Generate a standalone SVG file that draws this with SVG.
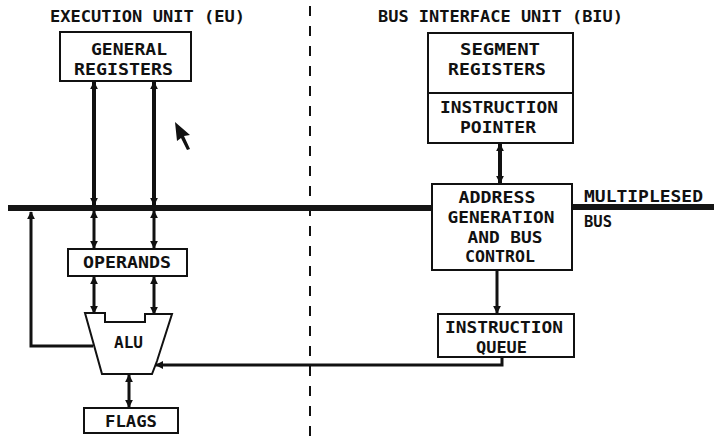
<svg xmlns="http://www.w3.org/2000/svg" width="714" height="442" viewBox="0 0 714 442">
<style>
  .t{font-family:"DejaVu Sans Mono","Liberation Mono",monospace;font-weight:bold;font-size:15.5px;fill:#111;text-anchor:middle}
  .ts{font-family:"DejaVu Sans Mono","Liberation Mono",monospace;font-weight:bold;font-size:15.5px;fill:#111;text-anchor:start}
  .box{fill:#fff;stroke:#111;stroke-width:2}
  .w{fill:none;stroke:#111;stroke-width:3}
  .wt{fill:none;stroke:#111;stroke-width:4}
  .bus{fill:none;stroke:#151515;stroke-width:6}
</style>
<defs>
  <marker id="ah" viewBox="0 0 10 10" refX="9" refY="5" markerWidth="8" markerHeight="8" markerUnits="userSpaceOnUse" orient="auto-start-reverse">
    <path d="M0,0 L10,5 L0,10 Z" fill="#111"/>
  </marker>
</defs>
<rect x="0" y="0" width="714" height="442" fill="#fff"/>

<g id="divider">
  <line x1="310" y1="6" x2="310" y2="442" stroke="#111" stroke-width="2" stroke-dasharray="10 10"/>
</g>

<g id="bus">
  <line class="bus" x1="8" y1="208" x2="432" y2="208"/>
  <line class="bus" x1="572" y1="207" x2="714" y2="207"/>
</g>

<g id="title-eu"><text class="t" x="147.5" y="22" textLength="195" lengthAdjust="spacingAndGlyphs">EXECUTION UNIT (EU)</text></g>
<g id="title-biu"><text class="t" x="500.5" y="22" textLength="245" lengthAdjust="spacingAndGlyphs">BUS INTERFACE UNIT (BIU)</text></g>

<g id="general-registers">
  <rect class="box" x="60" y="32" width="131" height="49"/>
  <text class="t" x="129" y="55" textLength="76" lengthAdjust="spacingAndGlyphs">GENERAL</text>
  <text class="t" x="123.5" y="75" textLength="99" lengthAdjust="spacingAndGlyphs">REGISTERS</text>
</g>

<g id="segment-registers">
  <rect class="box" x="428" y="33" width="145" height="60"/>
  <text class="t" x="500" y="55" textLength="80" lengthAdjust="spacingAndGlyphs">SEGMENT</text>
  <text class="t" x="497" y="75" textLength="98" lengthAdjust="spacingAndGlyphs">REGISTERS</text>
</g>
<g id="instruction-pointer">
  <rect class="box" x="428" y="93" width="145" height="50"/>
  <text class="t" x="499" y="113" textLength="118" lengthAdjust="spacingAndGlyphs">INSTRUCTION</text>
  <text class="t" x="498" y="133" textLength="76" lengthAdjust="spacingAndGlyphs">POINTER</text>
</g>

<g id="address-generation">
  <rect class="box" x="432" y="184" width="140" height="86"/>
  <text class="t" x="497" y="203" textLength="77" lengthAdjust="spacingAndGlyphs">ADDRESS</text>
  <text class="t" x="501" y="223" textLength="107" lengthAdjust="spacingAndGlyphs">GENERATION</text>
  <text class="t" x="505" y="243" textLength="75" lengthAdjust="spacingAndGlyphs">AND BUS</text>
  <text class="t" x="500" y="262" textLength="70" lengthAdjust="spacingAndGlyphs">CONTROL</text>
</g>

<g id="bus-label">
  <text class="ts" x="584" y="202" textLength="119" lengthAdjust="spacingAndGlyphs">MULTIPLESED</text>
  <text class="ts" x="584" y="227" textLength="28" lengthAdjust="spacingAndGlyphs">BUS</text>
</g>

<g id="instruction-queue">
  <rect class="box" x="438" y="314" width="136" height="43"/>
  <text class="t" x="504" y="333" textLength="118" lengthAdjust="spacingAndGlyphs">INSTRUCTION</text>
  <text class="t" x="501.5" y="353" textLength="51" lengthAdjust="spacingAndGlyphs">QUEUE</text>
</g>

<g id="operands">
  <rect class="box" x="68" y="249" width="119" height="27"/>
  <text class="t" x="127" y="268" textLength="88" lengthAdjust="spacingAndGlyphs">OPERANDS</text>
</g>

<g id="alu">
  <polygon class="box" points="85,313 105,313 105,322 145,322 145,314 172,314 157,361 152,374 102,374"/>
  <text class="t" x="128.5" y="348" textLength="29" lengthAdjust="spacingAndGlyphs">ALU</text>
</g>

<g id="flags">
  <rect class="box" x="84" y="408" width="94" height="25"/>
  <text class="t" x="131" y="427" textLength="52" lengthAdjust="spacingAndGlyphs">FLAGS</text>
</g>

<g id="connectors">
  <line class="wt" x1="94" y1="82" x2="94" y2="205" marker-start="url(#ah)" marker-end="url(#ah)"/>
  <line class="wt" x1="154" y1="82" x2="154" y2="205" marker-start="url(#ah)" marker-end="url(#ah)"/>
  <line class="w" x1="94" y1="211" x2="94" y2="248" marker-start="url(#ah)" marker-end="url(#ah)"/>
  <line class="w" x1="154" y1="211" x2="154" y2="248" marker-start="url(#ah)" marker-end="url(#ah)"/>
  <line class="w" x1="94" y1="277" x2="94" y2="313" marker-start="url(#ah)" marker-end="url(#ah)"/>
  <line class="w" x1="154" y1="277" x2="154" y2="314" marker-start="url(#ah)" marker-end="url(#ah)"/>
  <line class="w" x1="129" y1="375" x2="129" y2="407" stroke-width="2" marker-start="url(#ah)" marker-end="url(#ah)"/>
  <line class="wt" x1="500" y1="144" x2="500" y2="183" marker-start="url(#ah)" marker-end="url(#ah)"/>
  <line class="w" x1="497" y1="271" x2="497" y2="313" marker-end="url(#ah)"/>
  <polyline class="w" points="93,346 31,346 31,212" marker-end="url(#ah)"/>
  <polyline class="w" points="502,357 502,365 156,365" marker-end="url(#ah)"/>
</g>

<g id="cursor">
  <polygon points="175,122 190,135 184,136 190,149 187,150 181,138 177,141" fill="#111"/>
</g>
</svg>
